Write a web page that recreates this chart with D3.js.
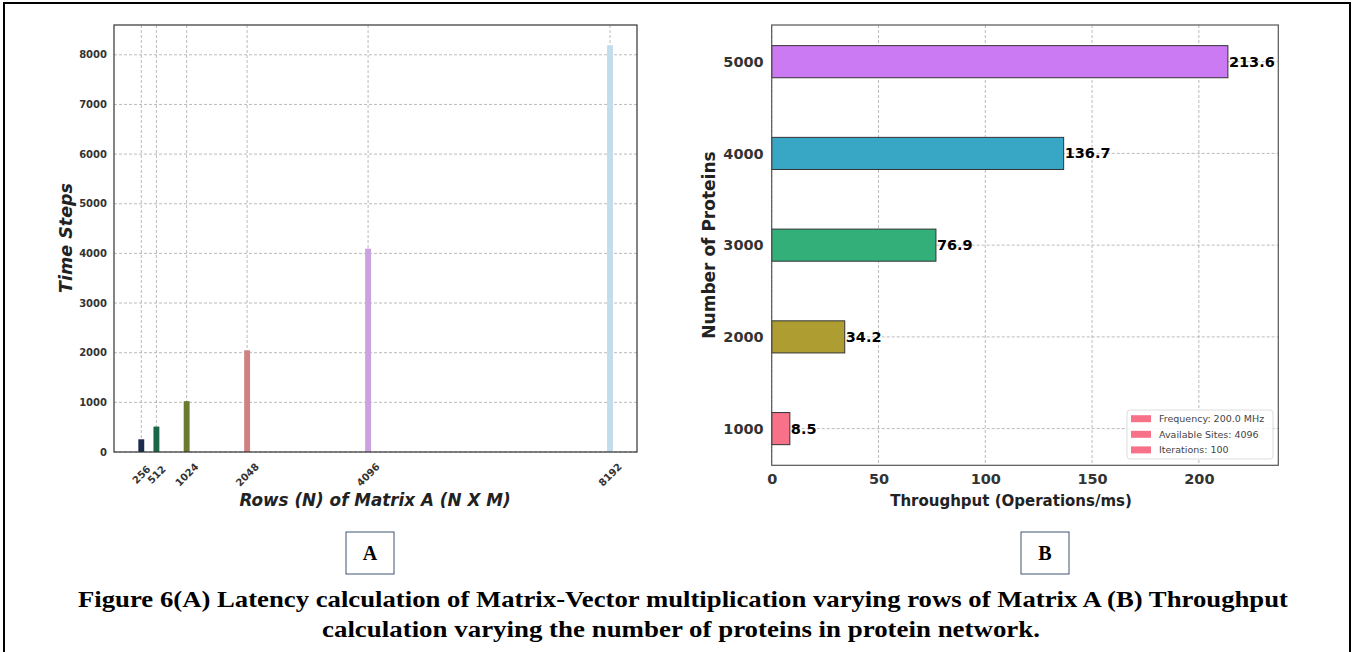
<!DOCTYPE html>
<html>
<head>
<meta charset="utf-8">
<script src="https://cdn.jsdelivr.net/npm/d3@7"></script>
<style>
  body { margin: 0; background: #fff; }
  svg { display: block; }
  .tick text { font-family: "DejaVu Sans", sans-serif; font-weight: bold; fill: #333; }
  .domain { display: none; }
  .serif { font-family: "Liberation Serif", "Times New Roman", Tinos, Times, serif; font-weight: bold; }
</style>
</head>
<body>
<svg id="chart" width="1362" height="652"></svg>
<script>
// Panel A: latency vs rows of matrix A
const rowsN = [256, 512, 1024, 2048, 4096, 8192];
const timeSteps = [256, 512, 1024, 2048, 4096, 8192];
const rowColors = ["#1c2a4e", "#1b6648", "#6a7b2f", "#cf8080", "#c9a2df", "#c2dcec"];
const timeTicks = [0, 1000, 2000, 3000, 4000, 5000, 6000, 7000, 8000];

// Panel B: throughput vs number of proteins
const proteinCounts = ["1000", "2000", "3000", "4000", "5000"];
const throughput = [8.5, 34.2, 76.9, 136.7, 213.6];
const proteinColors = ["#f77189", "#ae9d31", "#33b07a", "#38a7c5", "#cc79f4"];
const throughputTicks = [0, 50, 100, 150, 200];
const legendItems = ["Frequency: 200.0 MHz", "Available Sites: 4096", "Iterations: 100"];

const captionLines = [
  "Figure 6(A) Latency calculation of Matrix-Vector multiplication varying rows of Matrix A (B) Throughput",
  "calculation varying the number of proteins in protein network."
];

const svg = d3.select("#chart");

// outer frame
svg.append("rect")
  .attr("x", 4).attr("y", 3)
  .attr("width", 1346).attr("height", 720)
  .attr("fill", "none").attr("stroke", "#000").attr("stroke-width", 2);

const gridStyle = sel => sel
  .attr("stroke", "#aaa")
  .attr("stroke-width", 0.8)
  .attr("stroke-dasharray", "3,2");

// ---------- Panel A ----------
const a = { left: 114, right: 637, top: 25, bottom: 452 };

const xA = d3.scaleLinear().domain([-206, 8649]).range([a.left, a.right]);
const yA = d3.scaleLinear().domain([0, 8600]).range([a.bottom, a.top]);

const gA = svg.append("g");

// grid
gA.selectAll(".hgrid").data(timeTicks).join("line")
  .attr("x1", a.left).attr("x2", a.right)
  .attr("y1", d => yA(d)).attr("y2", d => yA(d))
  .call(gridStyle);
gA.selectAll(".vgrid").data(rowsN).join("line")
  .attr("x1", d => xA(d)).attr("x2", d => xA(d))
  .attr("y1", a.top).attr("y2", a.bottom)
  .call(gridStyle);

// bars
const barW = xA(100) - xA(0);
gA.selectAll(".barA").data(timeSteps).join("rect")
  .attr("x", (d, i) => xA(rowsN[i]) - barW / 2)
  .attr("y", d => yA(d))
  .attr("width", barW)
  .attr("height", d => yA(0) - yA(d))
  .attr("fill", (d, i) => rowColors[i]);

// axes
gA.append("g")
  .attr("transform", `translate(${a.left},0)`)
  .call(d3.axisLeft(yA).tickValues(timeTicks).tickSize(0).tickPadding(7).tickFormat(d3.format("d")))
  .selectAll("text").style("font-size", "10px");

const xAxisA = gA.append("g")
  .attr("transform", `translate(0,${a.bottom})`)
  .call(d3.axisBottom(xA).tickValues(rowsN).tickSize(0).tickFormat(d3.format("d")));
xAxisA.selectAll("text")
  .style("font-size", "10px")
  .attr("text-anchor", "middle")
  .attr("dy", null)
  .attr("y", 0)
  .attr("transform", "translate(0,23) rotate(-45)")
  .attr("dominant-baseline", "middle");

gA.append("rect")
  .attr("x", a.left).attr("y", a.top)
  .attr("width", a.right - a.left).attr("height", a.bottom - a.top)
  .attr("fill", "none").attr("stroke", "#333").attr("stroke-width", 1.2);

gA.append("text")
  .attr("transform", `translate(72,238) rotate(-90)`)
  .attr("text-anchor", "middle")
  .style("font-family", "DejaVu Sans").style("font-weight", "bold").style("font-style", "italic")
  .style("font-size", "17.5px").attr("fill", "#222")
  .text("Time Steps");

gA.append("text")
  .attr("x", 375).attr("y", 506)
  .attr("text-anchor", "middle")
  .style("font-family", "DejaVu Sans").style("font-weight", "bold").style("font-style", "italic")
  .style("font-size", "16.8px").attr("fill", "#222")
  .text("Rows (N) of Matrix A (N X M)");

// ---------- Panel B ----------
const b = { left: 771.7, right: 1278.3, top: 25, bottom: 465.3 };

const xB = d3.scaleLinear().domain([0, 237.2]).range([b.left, b.right]);
const yB = d3.scaleLinear().domain([-0.4, 4.4]).range([b.bottom, b.top]);

const gB = svg.append("g");

gB.selectAll(".vgrid").data(throughputTicks).join("line")
  .attr("x1", d => xB(d)).attr("x2", d => xB(d))
  .attr("y1", b.top).attr("y2", b.bottom)
  .call(gridStyle);
gB.selectAll(".hgrid").data(proteinCounts).join("line")
  .attr("x1", b.left).attr("x2", b.right)
  .attr("y1", (d, i) => yB(i)).attr("y2", (d, i) => yB(i))
  .call(gridStyle);

const barH = yB(0) - yB(0.35);
gB.selectAll(".barB").data(throughput).join("rect")
  .attr("x", xB(0))
  .attr("y", (d, i) => yB(i) - barH / 2)
  .attr("width", d => xB(d) - xB(0))
  .attr("height", barH)
  .attr("fill", (d, i) => proteinColors[i])
  .attr("stroke", "#333").attr("stroke-width", 1);

gB.selectAll(".val").data(throughput).join("text")
  .attr("x", d => xB(d) + 1)
  .attr("y", (d, i) => yB(i))
  .attr("dy", "0.35em")
  .style("font-family", "DejaVu Sans").style("font-weight", "bold")
  .style("font-size", "14.5px").attr("fill", "#000")
  .text(d => d.toFixed(1));

gB.append("g")
  .attr("transform", `translate(${b.left},0)`)
  .call(d3.axisLeft(yB).tickValues(d3.range(proteinCounts.length)).tickSize(0).tickPadding(8)
    .tickFormat(i => proteinCounts[i]))
  .selectAll("text").style("font-size", "14.5px");

gB.append("g")
  .attr("transform", `translate(0,${b.bottom})`)
  .call(d3.axisBottom(xB).tickValues(throughputTicks).tickSize(0).tickPadding(8))
  .selectAll("text").style("font-size", "14.5px");

gB.append("rect")
  .attr("x", b.left).attr("y", b.top)
  .attr("width", b.right - b.left).attr("height", b.bottom - b.top)
  .attr("fill", "none").attr("stroke", "#555").attr("stroke-width", 1.2);

gB.append("text")
  .attr("transform", `translate(715,245) rotate(-90)`)
  .attr("text-anchor", "middle")
  .style("font-family", "DejaVu Sans").style("font-weight", "bold")
  .style("font-size", "17px").attr("fill", "#222")
  .text("Number of Proteins");

gB.append("text")
  .attr("x", 1011).attr("y", 506)
  .attr("text-anchor", "middle")
  .style("font-family", "DejaVu Sans").style("font-weight", "bold")
  .style("font-size", "15px").attr("fill", "#222")
  .text("Throughput (Operations/ms)");

// legend
const lg = gB.append("g").attr("transform", "translate(1127,410)");
lg.append("rect")
  .attr("width", 146).attr("height", 49).attr("rx", 3)
  .attr("fill", "#fff").attr("fill-opacity", 0.85)
  .attr("stroke", "#ddd");
lg.selectAll(".lgItem").data(legendItems).join("g")
  .attr("transform", (d, i) => `translate(0,${8.7 + i * 15.6})`)
  .each(function (d) {
    const g = d3.select(this);
    g.append("rect").attr("x", 4).attr("y", -3.5).attr("width", 20).attr("height", 7).attr("fill", proteinColors[0]);
    g.append("text").attr("x", 32).attr("dy", "0.35em")
      .style("font-family", "DejaVu Sans").style("font-size", "9.5px").attr("fill", "#444")
      .text(d);
  });

// ---------- sub labels and caption ----------
const tags = [{ t: "A", x: 346 }, { t: "B", x: 1021 }];
tags.forEach(tag => {
  svg.append("rect")
    .attr("x", tag.x).attr("y", 532).attr("width", 48).attr("height", 42)
    .attr("fill", "#fff").attr("stroke", "#3f5472").attr("stroke-width", 1);
  svg.append("text")
    .attr("class", "serif")
    .attr("x", tag.x + 24).attr("y", 560)
    .attr("text-anchor", "middle")
    .style("font-size", "20px")
    .text(tag.t);
});

svg.selectAll(".caption").data(captionLines).join("text")
  .attr("class", "serif")
  .attr("x", (d, i) => i === 0 ? 78 : 322)
  .attr("y", (d, i) => 607 + i * 30)
  .attr("textLength", (d, i) => i === 0 ? 1210 : 718)
  .attr("lengthAdjust", "spacingAndGlyphs")
  .style("font-size", "23px")
  .attr("fill", "#000")
  .text(d => d);
</script>
</body>
</html>
